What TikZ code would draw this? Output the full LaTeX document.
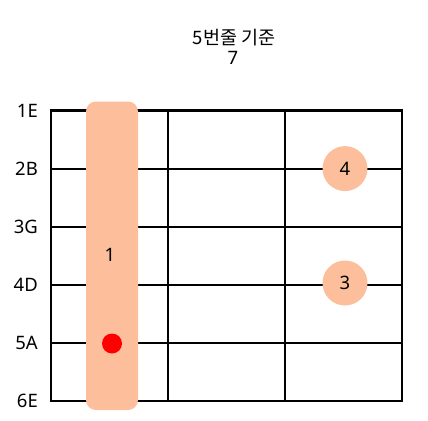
\documentclass[tikz,border=0pt]{standalone}
\usepackage{fontspec}
\setmainfont{Noto Sans}
\newfontfamily\cjk{Noto Sans CJK KR}
\usepackage{tikz}
\usetikzlibrary{positioning}
\definecolor{fingerfill}{HTML}{FDBF9B}
\definecolor{rootred}{HTML}{FF0000}

\begin{document}
\begin{tikzpicture}[x=1pt,y=-1pt,font=\fontsize{18.5}{22}\selectfont,
  gridline/.style={line width=2.2pt,line cap=rect},
  fingerdot/.style={circle,fill=fingerfill,minimum size=45pt,inner sep=0pt},
  strlabel/.style={anchor=east,inner sep=0pt}]
\useasboundingbox (0,0) rectangle (428,420);
% title
\node (title) at (234,38) {\cjk 5번줄 기준};
\node (fret) at (233,58) {7};
% strings
\foreach \s/\n [count=\i from 0] in {1/E,2/B,3/G,4/D,5/A,6/E}{
  \draw[gridline] (51,110.5+58.1*\i) -- (402,110.5+58.1*\i);
  \node[strlabel] (s\s) at (38,110.5+58.1*\i) {\s\n};
}
% frets
\foreach \x in {51,168,285,402}
  \draw[gridline] (\x,110.5) -- (\x,401);
% barre
\fill[fingerfill,rounded corners=10pt] (86,101.5) rectangle (138,410);
\node (barre) at (110,255) {1};
\fill[rootred] (112,343.5) circle (10pt);
\node[fingerdot] (f4) at (345,168.6) {4};
\node[fingerdot] (f3) at (345,283) {3};
\end{tikzpicture}
\end{document}
